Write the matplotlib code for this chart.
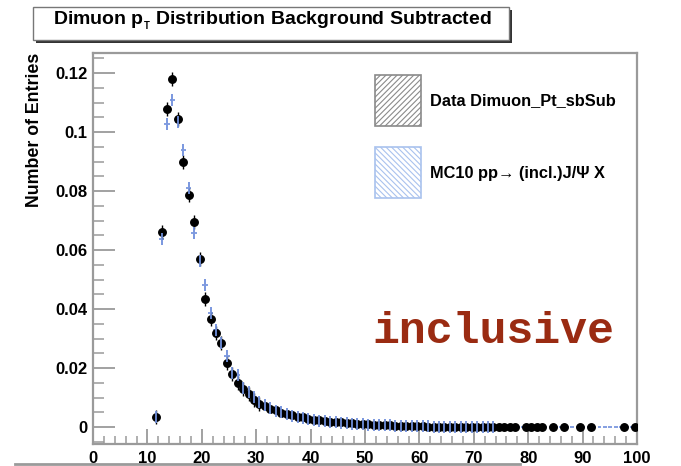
import numpy as np
import matplotlib
matplotlib.use('Agg')
from matplotlib import pyplot as plt
from matplotlib.patches import Rectangle
from matplotlib.lines import Line2D
from matplotlib.ticker import MultipleLocator, FuncFormatter

plt.rcParams['font.family'] = ['Liberation Sans', 'DejaVu Sans']
plt.rcParams['font.weight'] = 'bold'
plt.rcParams['mathtext.fontset'] = 'custom'
plt.rcParams['mathtext.rm'] = 'Liberation Sans:bold'
plt.rcParams['mathtext.it'] = 'Liberation Sans:bold'
plt.rcParams['mathtext.bf'] = 'Liberation Sans:bold'
plt.rcParams['hatch.linewidth'] = 0.8

# dimuon pT bin centres (GeV) of the non-empty data bins
data_pt = [11.6, 12.6, 13.6, 14.6, 15.6, 16.6, 17.6, 18.6, 19.6, 20.6,
           21.6, 22.6, 23.6, 24.6, 25.6, 26.6, 27.6, 28.6, 29.6, 30.6,
           31.6, 32.6, 33.6, 34.6, 35.6, 36.6, 37.6, 38.6, 39.6, 40.6,
           41.6, 42.6, 43.6, 44.6, 45.6, 46.6, 47.6, 48.6, 49.6, 50.6,
           51.6, 52.6, 53.6, 54.6, 55.6, 56.6, 57.6, 58.6, 59.6, 60.6,
           61.6, 62.6, 63.6, 64.6, 65.6, 66.6, 67.6, 68.6, 69.6, 70.6,
           71.6, 72.6, 73.6, 74.6, 75.6, 76.6, 77.6,
           79.6, 80.6, 81.6, 82.6, 84.6, 86.6, 89.6, 91.6, 97.6, 99.6]

# sideband-subtracted data, normalised
data_sbsub = [0.0036, 0.0660, 0.1077, 0.1180, 0.1046, 0.0900, 0.0786, 0.0694, 0.0570, 0.0436,
              0.0368, 0.0318, 0.0286, 0.0219, 0.0181, 0.0150, 0.0131, 0.0114, 0.0092, 0.0080,
              0.0072, 0.0063, 0.0057, 0.0047, 0.0044, 0.0040, 0.0036, 0.0034, 0.0029, 0.0025,
              0.0024, 0.0021, 0.0019, 0.0017, 0.0016, 0.0014, 0.0013, 0.0012, 0.0011, 0.0010,
              0.0009, 0.0008, 0.0007, 0.0006, 0.0005, 0.0004, 0.0004, 0.0003, 0.0003, 0.0003,
              0.0002, 0.0002, 0.0002, 0.0001, 0.0001, 0.0001, 0.0001, 0.0001, 0.0001, 0.0001,
              0.0001, 0.0001, 0.0, 0.0, 0.0, 0.0, 0.0,
              0.0, 0.0, 0.0, 0.0, 0.0, 0.0, 0.0, 0.0, 0.0, 0.0]

# MC bins cover the full range up to 100 GeV
mc_pt = [11.6, 12.6, 13.6, 14.6, 15.6, 16.6, 17.6, 18.6, 19.6, 20.6,
         21.6, 22.6, 23.6, 24.6, 25.6, 26.6, 27.6, 28.6, 29.6, 30.6,
         31.6, 32.6, 33.6, 34.6, 35.6, 36.6, 37.6, 38.6, 39.6, 40.6,
         41.6, 42.6, 43.6, 44.6, 45.6, 46.6, 47.6, 48.6, 49.6, 50.6,
         51.6, 52.6, 53.6, 54.6, 55.6, 56.6, 57.6, 58.6, 59.6, 60.6,
         61.6, 62.6, 63.6, 64.6, 65.6, 66.6, 67.6, 68.6, 69.6, 70.6,
         71.6, 72.6, 73.6, 74.6, 75.6, 76.6, 77.6, 78.6, 79.6, 80.6,
         81.6, 82.6, 83.6, 84.6, 85.6, 86.6, 87.6, 88.6, 89.6, 90.6,
         91.6, 92.6, 93.6, 94.6, 95.6, 96.6, 97.6, 98.6, 99.6]

# MC10 pp -> J/psi X, normalised
mc_incl = [0.0036, 0.0636, 0.1027, 0.1108, 0.1035, 0.0939, 0.0811, 0.0659, 0.0564, 0.0481,
           0.0387, 0.0330, 0.0286, 0.0241, 0.0185, 0.0176, 0.0134, 0.0120, 0.0103, 0.0086,
           0.0074, 0.0066, 0.0056, 0.0050, 0.0043, 0.0039, 0.0035, 0.0031, 0.0027, 0.0025,
           0.0022, 0.0020, 0.0018, 0.0016, 0.0015, 0.0013, 0.0012, 0.0011, 0.0010, 0.0009,
           0.0008, 0.0008, 0.0007, 0.0006, 0.0005, 0.0005, 0.0004, 0.0004, 0.0003, 0.0003,
           0.0003, 0.0002, 0.0002, 0.0002, 0.0001, 0.0001, 0.0001, 0.0001, 0.0001, 0.0001,
           0.0001, 0.0001, 0.0001, 0.0, 0.0, 0.0, 0.0, 0.0, 0.0, 0.0,
           0.0, 0.0, 0.0, 0.0, 0.0, 0.0, 0.0, 0.0, 0.0, 0.0,
           0.0, 0.0, 0.0, 0.0, 0.0, 0.0, 0.0, 0.0, 0.0]

W, H = 681, 466
def fx(px):
    return px / W
def fy(py):
    return 1 - py / H

frame = '#9a9a9a'
mc_col = '#6f8fdc'

fig = plt.figure(figsize=(6.81, 4.66), dpi=100)
ax = fig.add_axes([fx(93), fy(444), fx(637) - fx(93), fy(53) - fy(444)])

# MC: horizontal bars over the bin width (gap at the centre) plus vertical error ticks
mcx = np.array(mc_pt)
mcy = np.array(mc_incl)
ax.hlines(mcy, mcx - 0.5, mcx - 0.15, color=mc_col, lw=1.2, zorder=2)
ax.hlines(mcy, mcx + 0.15, mcx + 0.5, color=mc_col, lw=1.2, zorder=2)
ax.plot(mc_pt[:63], mc_incl[:63], ls='none', marker='|', ms=8, mew=1.3, color=mc_col, zorder=4)

# data: black dots, error ticks only where the stat. error shows
ax.plot(data_pt[:20], data_sbsub[:20], ls='none', marker='|', ms=10, mew=1.0, color='black', zorder=3)
ax.plot(data_pt, data_sbsub, ls='none', marker='o', ms=5.4, color='black', zorder=3)

ax.set_xlim(0, 100)
ax.set_ylim(-0.0057, 0.1268)

ax.xaxis.set_major_locator(MultipleLocator(10))
ax.xaxis.set_minor_locator(MultipleLocator(2))
ax.yaxis.set_major_locator(MultipleLocator(0.02))
ax.yaxis.set_minor_locator(MultipleLocator(0.005))
ax.yaxis.set_major_formatter(FuncFormatter(lambda v, p: '%g' % round(v, 4)))

ax.tick_params(axis='x', which='major', direction='in', length=11, width=1.3, color=frame, pad=5, labelsize=12)
ax.tick_params(axis='x', which='minor', direction='in', length=6, width=1.1, color=frame)
ax.tick_params(axis='y', which='major', direction='in', length=16, width=1.3, color=frame, pad=4, labelsize=12)
ax.tick_params(axis='y', which='minor', direction='in', length=8, width=1.1, color=frame)
for s in ax.spines.values():
    s.set_color(frame)
    s.set_linewidth(1.6)

fig.text(fx(35), fy(53), 'Number of Entries', rotation=90, ha='center', va='top', fontsize=12.8)

# title box with shadow
fig.add_artist(Rectangle((fx(36), fy(43)), fx(509) - fx(33), fy(7) - fy(40),
                         transform=fig.transFigure, facecolor='#333333', edgecolor='none'))
fig.add_artist(Rectangle((fx(33), fy(40)), fx(509) - fx(33), fy(7) - fy(40),
                         transform=fig.transFigure, facecolor='white', edgecolor='#777777', lw=1.0))
fig.text(fx(272), fy(21), r'Dimuon p$_{_\mathrm{T}}$ Distribution Background Subtracted',
         ha='center', va='center', fontsize=14)

# legend
fig.add_artist(Rectangle((fx(375), fy(126)), fx(421) - fx(375), fy(75) - fy(126),
                         transform=fig.transFigure, facecolor='white', edgecolor='#8a8a8a',
                         hatch='//////', lw=1.2))
fig.add_artist(Rectangle((fx(375), fy(198)), fx(421) - fx(375), fy(147) - fy(198),
                         transform=fig.transFigure, facecolor='white', edgecolor='#a9c2ee',
                         hatch='\\\\\\\\\\\\', lw=1.2))
fig.text(fx(430), fy(101), 'Data Dimuon_Pt_sbSub', ha='left', va='center', fontsize=11.8)
fig.text(fx(430), fy(173), 'MC10 pp\u2192 (incl.)J/\u03a8 X', ha='left', va='center', fontsize=11.8)

fig.text(fx(372), fy(343), 'inclusive', ha='left', va='baseline', fontsize=32.3,
         family='Liberation Mono', fontweight='bold', color='#9a2b12')

fig.add_artist(Line2D([fx(15), fx(520)], [fy(464), fy(464)], transform=fig.transFigure,
                      color='#9a9a9a', lw=2))

fig.savefig('out.png', dpi=100)
